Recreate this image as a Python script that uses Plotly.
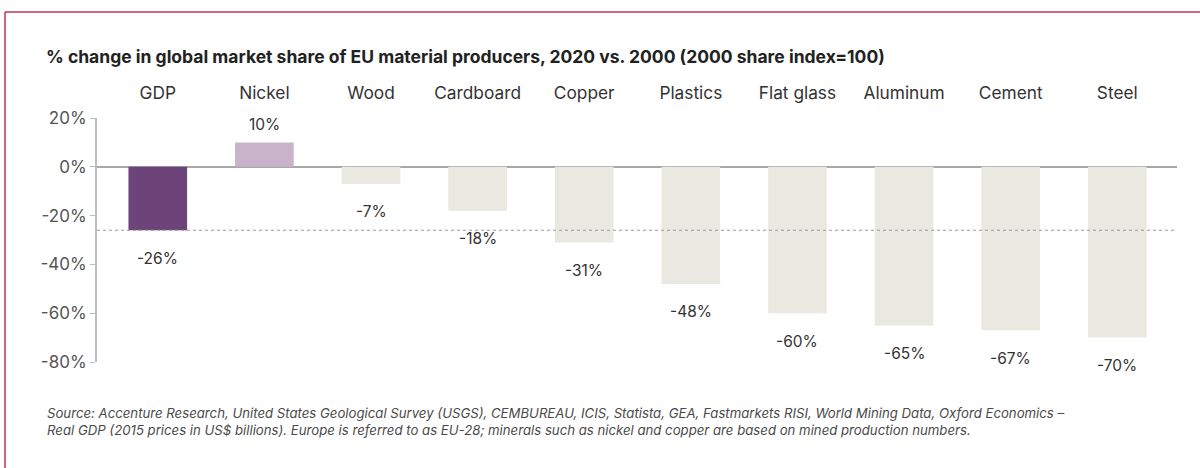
import plotly.graph_objects as go

categories = ["GDP", "Nickel", "Wood", "Cardboard", "Copper", "Plastics",
              "Flat glass", "Aluminum", "Cement", "Steel"]
values = [-26, 10, -7, -18, -31, -48, -60, -65, -67, -70]
bar_colors = ["#6d4479", "#c9b3ca", "#e9e8e1", "#e9e8e1", "#e9e8e1", "#e9e8e1",
              "#e9e8e1", "#e9e8e1", "#e9e8e1", "#e9e8e1"]
y_ticks = [20, 0, -20, -40, -60, -80]
y_tick_labels = ["20%", "0%", "-20%", "-40%", "-60%", "-80%"]
gdp_reference = values[0]

title_text = "% change in global market share of EU material producers, 2020 vs. 2000 (2000 share index=100)"
source_text = ("Source: Accenture Research, United States Geological Survey (USGS), CEMBUREAU, ICIS, Statista, GEA, "
               "Fastmarkets RISI, World Mining Data, Oxford Economics –<br>"
               "Real GDP (2015 prices in US$ billions). Europe is referred to as EU-28; minerals such as nickel and "
               "copper are based on mined production numbers.")

W, H = 1200, 468
ML, MR, MT, MB = 97, 23, 118, 106
PW = W - ML - MR
PH = H - MT - MB

def px_x(px):
    return (px - ML) / PW

def px_y(py):
    return (H - MB - py) / PH

FONT = "Inter"

fig = go.Figure()
fig.add_trace(go.Bar(
    x=categories, y=values, marker=dict(color=bar_colors, line=dict(width=0)),
    width=0.55, hoverinfo="x+y", showlegend=False,
))

annotations = []
for c, v in zip(categories, values):
    annotations.append(dict(
        x=c, y=v, xref="x", yref="y", text=f"{v}%", showarrow=False,
        yshift=(18 if v > 0 else -28), font=dict(family=FONT, size=15.5, color="#333333"),
    ))

annotations.append(dict(
    x=px_x(45), y=px_y(421), xref="paper", yref="paper", xanchor="left", yanchor="middle",
    text=f"<i>{source_text}</i>", showarrow=False, align="left",
    font=dict(family=FONT, size=13.2, color="#4a4a4a"),
))

shapes = [
    dict(type="line", xref="paper", yref="y", x0=0, x1=1, y0=gdp_reference, y1=gdp_reference,
         line=dict(color="#9a9a9a", width=1.2, dash="dot")),
    dict(type="line", xref="paper", yref="paper", x0=px_x(5), x1=px_x(1210),
         y0=px_y(12), y1=px_y(12), line=dict(color="#c2335a", width=1.5)),
    dict(type="line", xref="paper", yref="paper", x0=px_x(5), x1=px_x(5),
         y0=px_y(12), y1=px_y(480), line=dict(color="#c2335a", width=1.5)),
]

fig.update_layout(
    width=W, height=H,
    margin=dict(l=ML, r=MR, t=MT, b=MB),
    paper_bgcolor="white", plot_bgcolor="white",
    title=dict(text=f"<b>{title_text}</b>", x=46 / W, xanchor="left", y=1 - 57 / H, yanchor="middle",
               font=dict(family=FONT, size=17.5, color="#222222")),
    xaxis=dict(side="top", range=[-0.57, 9.56], showgrid=False, showline=False,
               ticks="outside", ticklen=11, tickcolor="rgba(0,0,0,0)",
               tickfont=dict(family=FONT, size=17.3, color="#333333")),
    yaxis=dict(range=[-80, 20], tickvals=y_ticks, ticktext=y_tick_labels, showgrid=False,
               showline=True, linecolor="#bdbdbd", linewidth=2,
               ticks="outside", ticklen=5, tickcolor="#bdbdbd", tickwidth=1,
               zeroline=True, zerolinecolor="#a8a8a8", zerolinewidth=1.5,
               tickfont=dict(family=FONT, size=17, color="#555555")),
    annotations=annotations, shapes=shapes, bargap=0.45,
)

fig.write_html("out.html", config={"displayModeBar": False},
               post_script="document.body.style.margin='0';")
